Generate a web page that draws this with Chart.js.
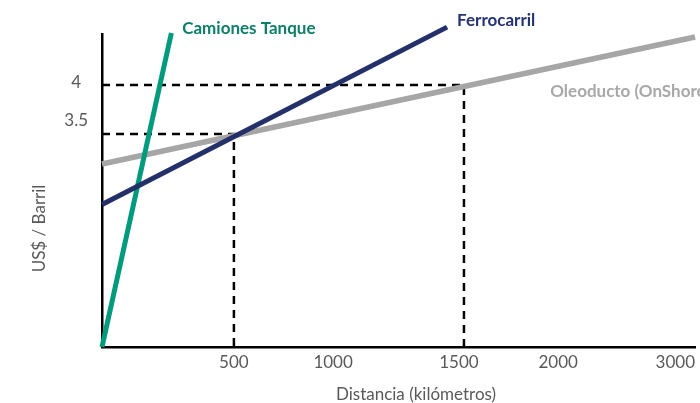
<!DOCTYPE html>
<html>
<head>
<meta charset="utf-8">
<script src="https://cdn.jsdelivr.net/npm/chart.js@4"></script>
<style>
  html, body { margin: 0; padding: 0; background: #ffffff; }
  #wrap { width: 700px; height: 403px; }
</style>
</head>
<body>
<div id="wrap"><canvas id="c" width="700" height="403"></canvas></div>
<script>
// ---- data ----
const seriesNames = ['Ferrocarril', 'Camiones Tanque', 'Oleoducto (OnShore)'];
const ferrocarrilX = [0, 1308];
const ferrocarrilY = [2.78, 4.59];
const camionesX = [0, 263];
const camionesY = [1.327, 4.53];
const oleoductoX = [0, 2248];
const oleoductoY = [3.194, 4.49];

const xTickPos = [500, 876, 1353, 1729, 2173];
const xTickLabels = ['500', '1000', '1500', '2000', '3000'];
const yTickPos = [3.64, 4.02];
const yTickLabels = ['3.5', '4'];

const guideX = [500, 1372];
const guideY = [3.5, 4];

const xMin = 0, xMax = 2250;
const yMin = 1.327, yMax = 4.52;

const xTitle = 'Distancia (kilómetros)';
const yTitle = 'US$ / Barril';

// label anchors (data units)
const labelAnchorX = [1346, 304, 1699];
const labelAnchorY = [4.66, 4.58, 3.93];

// ---- styles ----
const lineColors = ['#24306a', '#009a7c', '#a6a6a6'];
const textColors = ['#253371', '#0b7f68', '#a8a8a8'];
const FONT = 'Lato, "Open Sans", sans-serif';

function pts(xs, ys) { return xs.map((x, i) => ({ x: x, y: ys[i] })); }

const datasets = [
  { label: seriesNames[0], data: pts(ferrocarrilX, ferrocarrilY), borderColor: lineColors[0], borderWidth: 5 },
  { label: seriesNames[1], data: pts(camionesX, camionesY), borderColor: lineColors[1], borderWidth: 5 },
  { label: seriesNames[2], data: pts(oleoductoX, oleoductoY), borderColor: lineColors[2], borderWidth: 5.5 },
  { label: 'g1', data: [{x: xMin, y: guideY[1]}, {x: guideX[1], y: guideY[1]}, {x: guideX[1], y: yMin}],
    borderColor: '#000', borderWidth: 2.5, borderDash: [8, 6] },
  { label: 'g0', data: [{x: xMin, y: guideY[0]}, {x: guideX[0], y: guideY[0]}, {x: guideX[0], y: yMin}],
    borderColor: '#000', borderWidth: 2.5, borderDash: [8, 6] }
].map(d => Object.assign({ pointRadius: 0, fill: false, tension: 0, clip: false }, d));

const textPlugin = {
  id: 'texts',
  afterDraw(chart) {
    const ctx = chart.ctx;
    const xs = chart.scales.x, ys = chart.scales.y;
    const ca = chart.chartArea;
    ctx.save();
    // axis titles
    ctx.fillStyle = '#595959';
    ctx.font = '17px ' + FONT;
    ctx.textAlign = 'center';
    ctx.textBaseline = 'middle';
    ctx.fillText(xTitle, ca.left + 314, ca.bottom + 48);
    ctx.save();
    ctx.translate(ca.left - 62, (ca.top + ca.bottom) / 2 + 38);
    ctx.rotate(-Math.PI / 2);
    ctx.fillText(yTitle, 0, 0);
    ctx.restore();
    // series labels
    ctx.font = 'bold 17px ' + FONT;
    ctx.textAlign = 'left';
    for (let i = 0; i < seriesNames.length; i++) {
      ctx.fillStyle = textColors[i];
      ctx.fillText(seriesNames[i], xs.getPixelForValue(labelAnchorX[i]), ys.getPixelForValue(labelAnchorY[i]));
    }
    ctx.restore();
  }
};

new Chart(document.getElementById('c'), {
  type: 'line',
  data: { datasets: datasets },
  options: {
    responsive: false,
    animation: false,
    devicePixelRatio: 1,
    layout: { padding: { top: 34, right: 0, left: 0, bottom: 0 } },
    plugins: { legend: { display: false }, tooltip: { enabled: false } },
    scales: {
      x: {
        type: 'linear', min: xMin, max: xMax,
        grid: { display: false, drawTicks: false },
        border: { display: true, color: '#000', width: 2.5 },
        afterBuildTicks: s => { s.ticks = xTickPos.map(v => ({ value: v })); },
        afterFit: s => { s.height = 56; },
        ticks: {
          autoSkip: false, maxRotation: 0, padding: 5,
          color: '#595959', font: { family: FONT, size: 17 },
          callback: (v, i) => xTickLabels[i]
        }
      },
      y: {
        type: 'linear', min: yMin, max: yMax,
        grid: { display: false, drawTicks: false },
        border: { display: true, color: '#000', width: 2.5 },
        afterBuildTicks: s => { s.ticks = yTickPos.map(v => ({ value: v })); },
        afterFit: s => { s.width = 102; },
        ticks: {
          autoSkip: false, padding: 14, crossAlign: 'center',
          color: '#595959', font: { family: FONT, size: 17 },
          callback: (v, i) => yTickLabels[i]
        }
      }
    }
  },
  plugins: [textPlugin]
});
</script>
</body>
</html>
